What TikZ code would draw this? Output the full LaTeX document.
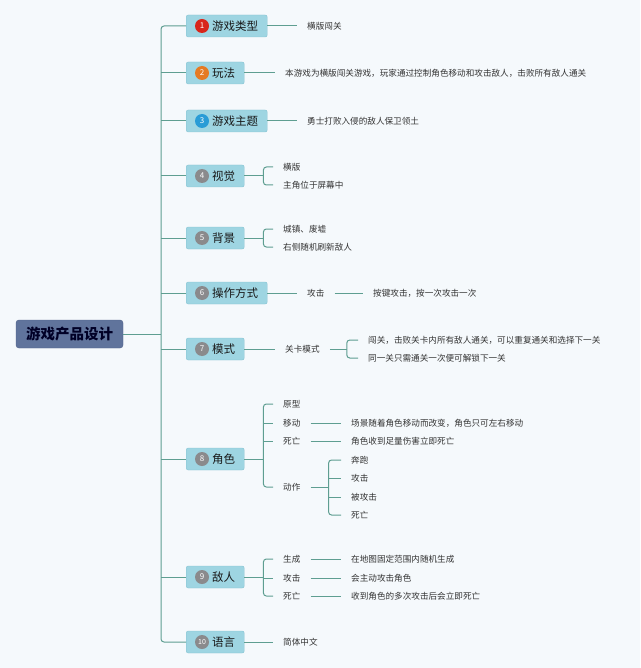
\documentclass[tikz,border=0pt]{standalone}
\usepackage{fontspec}
\setmainfont{Noto Sans CJK SC}
\usetikzlibrary{calc,positioning}

\definecolor{bgcol}{HTML}{F5F9FC}
\definecolor{linkcol}{HTML}{5E9E91}
\definecolor{boxfill}{HTML}{9ED5E2}
\definecolor{boxline}{HTML}{86C3D1}
\definecolor{rootfill}{HTML}{60749C}
\definecolor{rootline}{HTML}{4E6088}
\definecolor{nred}{HTML}{D8261B}
\definecolor{norange}{HTML}{E57A23}
\definecolor{nblue}{HTML}{2A9CD6}
\definecolor{ngray}{HTML}{8A8A8C}

\tikzset{
  link/.style={draw=linkcol,line width=1pt},
  root/.style={draw=rootline,fill=rootfill,rounded corners=3pt,minimum width=107pt,
               minimum height=28pt,text=black!85!blue,font=\fontsize{14.5}{15}\selectfont\bfseries},
  branch/.style={anchor=west,draw=boxline,fill=boxfill,rounded corners=2pt,minimum height=22pt,
                 inner xsep=9pt,inner ysep=0pt,text=black!90,font=\fontsize{11.5}{12}\selectfont},
  badge/.style={circle,fill=#1,text=white,minimum size=14pt,inner sep=0pt,
                font=\fontsize{8}{8}\selectfont},
  leaf/.style={anchor=west,inner xsep=10pt,inner ysep=1pt,text=black!80,
               font=\fontsize{8.6}{9}\selectfont},
}

\begin{document}
\begin{tikzpicture}[x=1pt,y=-1pt]
%
  \fill[bgcol] (0,0) rectangle (640,668);
  \useasboundingbox (0,0) rectangle (640,668);
%
  \node[root] (m) at (69.5,334) {游戏产品设计} ;
  \coordinate (k) at (161,334) ;
%
  \node[branch] (b1) at (186,26) {\hspace*{17pt}游戏类型} ;
  \node[branch] (b2) at (186,73) {\hspace*{17pt}玩法} ;
  \node[branch] (b3) at (186,121) {\hspace*{17pt}游戏主题} ;
  \node[branch] (b4) at (186,176) {\hspace*{17pt}视觉} ;
  \node[branch] (b5) at (186,238) {\hspace*{17pt}背景} ;
  \node[branch] (b6) at (186,293) {\hspace*{17pt}操作方式} ;
  \node[branch] (b7) at (186,349) {\hspace*{17pt}模式} ;
  \node[branch] (b8) at (186,459) {\hspace*{17pt}角色} ;
  \node[branch] (b9) at (186,577) {\hspace*{17pt}敌人} ;
  \node[branch] (b10) at (186,642) {\hspace*{17pt}语言} ;
%
  \node[badge=nred] (n1) at ([xshift=16pt]b1.west) {1} ;
  \node[badge=norange] (n2) at ([xshift=16pt]b2.west) {2} ;
  \node[badge=nblue] (n3) at ([xshift=16pt]b3.west) {3} ;
  \node[badge=ngray] (n4) at ([xshift=16pt]b4.west) {4} ;
  \node[badge=ngray] (n5) at ([xshift=16pt]b5.west) {5} ;
  \node[badge=ngray] (n6) at ([xshift=16pt]b6.west) {6} ;
  \node[badge=ngray] (n7) at ([xshift=16pt]b7.west) {7} ;
  \node[badge=ngray] (n8) at ([xshift=16pt]b8.west) {8} ;
  \node[badge=ngray] (n9) at ([xshift=16pt]b9.west) {9} ;
  \node[badge=ngray,font=\fontsize{7}{7}\selectfont] (n10) at ([xshift=16pt]b10.west) {10} ;
%
  \draw[link] (m) -- (k) ;
  \draw[link,rounded corners=3pt] (b1.west) -| (k) |- (b10.west) ;
  \draw[link] (k |- b2.west) -- (b2.west) ;
  \draw[link] (k |- b3.west) -- (b3.west) ;
  \draw[link] (k |- b4.west) -- (b4.west) ;
  \draw[link] (k |- b5.west) -- (b5.west) ;
  \draw[link] (k |- b6.west) -- (b6.west) ;
  \draw[link] (k |- b7.west) -- (b7.west) ;
  \draw[link] (k |- b8.west) -- (b8.west) ;
  \draw[link] (k |- b9.west) -- (b9.west) ;
%
  \node[leaf] (t1) at (297,26) {横版闯关} ;
  \node[leaf] (p1) at (275,73) {本游戏为横版闯关游戏，玩家通过控制角色移动和攻击敌人，击败所有敌人通关} ;
  \node[leaf] (h1) at (297,121) {勇士打败入侵的敌人保卫领土} ;
  \draw[link] (b1.east) -- (t1.west) ;
  \draw[link] (b2.east) -- (p1.west) ;
  \draw[link] (b3.east) -- (h1.west) ;
%
  \node[leaf] (v1) at (273,167) {横版} ;
  \node[leaf] (v2) at (273,185) {主角位于屏幕中} ;
  \draw[link] (b4.east) -- ++(19,0) coordinate (kv) ;
  \draw[link,rounded corners=3pt] (v1.west) -| (kv) |- (v2.west) ;
%
  \node[leaf] (g1) at (273,229) {城镇、废墟} ;
  \node[leaf] (g2) at (273,247) {右侧随机刷新敌人} ;
  \draw[link] (b5.east) -- ++(19,0) coordinate (kg) ;
  \draw[link,rounded corners=3pt] (g1.west) -| (kg) |- (g2.west) ;
%
  \node[leaf] (o1) at (297,293) {攻击} ;
  \node[leaf] (o2) at (363,293) {按键攻击，按一次攻击一次} ;
  \draw[link] (b6.east) -- (o1.west) ;
  \draw[link] (o1.east) -- (o2.west) ;
%
  \node[leaf] (d1) at (275,349) {关卡模式} ;
  \node[leaf] (d2) at (358,340) {闯关，击败关卡内所有敌人通关，可以重复通关和选择下一关} ;
  \node[leaf] (d3) at (358,358) {同一关只需通关一次便可解锁下一关} ;
  \draw[link] (b7.east) -- (d1.west) ;
  \draw[link] (d1.east) -- ++(17,0) coordinate (kd) ;
  \draw[link,rounded corners=3pt] (d2.west) -| (kd) |- (d3.west) ;
%
  \node[leaf] (r1) at (273,404) {原型} ;
  \node[leaf] (r2) at (273,423) {移动} ;
  \node[leaf] (r3) at (273,441) {死亡} ;
  \node[leaf] (r4) at (273,487) {动作} ;
  \node[leaf] (r5) at (341,423) {场景随着角色移动而改变，角色只可左右移动} ;
  \node[leaf] (r6) at (341,441) {角色收到足量伤害立即死亡} ;
  \node[leaf] (r7) at (341,460) {奔跑} ;
  \node[leaf] (r8) at (341,478) {攻击} ;
  \node[leaf] (r9) at (341,497) {被攻击} ;
  \node[leaf] (r10) at (341,515) {死亡} ;
  \draw[link] (b8.east) -- ++(19,0) coordinate (kr) ;
  \draw[link,rounded corners=3pt] (r1.west) -| (kr) |- (r4.west) ;
  \draw[link] (kr |- r2.west) -- (r2.west) ;
  \draw[link] (kr |- r3.west) -- (r3.west) ;
  \draw[link] (r2.east) -- (r5.west) ;
  \draw[link] (r3.east) -- (r6.west) ;
  \draw[link] (r4.east) -- ++(18,0) coordinate (ka) ;
  \draw[link,rounded corners=3pt] (r7.west) -| (ka) |- (r10.west) ;
  \draw[link] (ka |- r8.west) -- (r8.west) ;
  \draw[link] (ka |- r9.west) -- (r9.west) ;
%
  \node[leaf] (e1) at (273,559) {生成} ;
  \node[leaf] (e2) at (273,578) {攻击} ;
  \node[leaf] (e3) at (273,596) {死亡} ;
  \node[leaf] (e4) at (341,559) {在地图固定范围内随机生成} ;
  \node[leaf] (e5) at (341,578) {会主动攻击角色} ;
  \node[leaf] (e6) at (341,596) {收到角色的多次攻击后会立即死亡} ;
  \draw[link] (b9.east) -- ++(19,0) coordinate (ke) ;
  \draw[link,rounded corners=3pt] (e1.west) -| (ke) |- (e3.west) ;
  \draw[link] (ke |- e2.west) -- (e2.west) ;
  \draw[link] (e1.east) -- (e4.west) ;
  \draw[link] (e2.east) -- (e5.west) ;
  \draw[link] (e3.east) -- (e6.west) ;
%
  \node[leaf] (l1) at (273,642) {简体中文} ;
  \draw[link] (b10.east) -- (l1.west) ;

\end{tikzpicture}
\end{document}
